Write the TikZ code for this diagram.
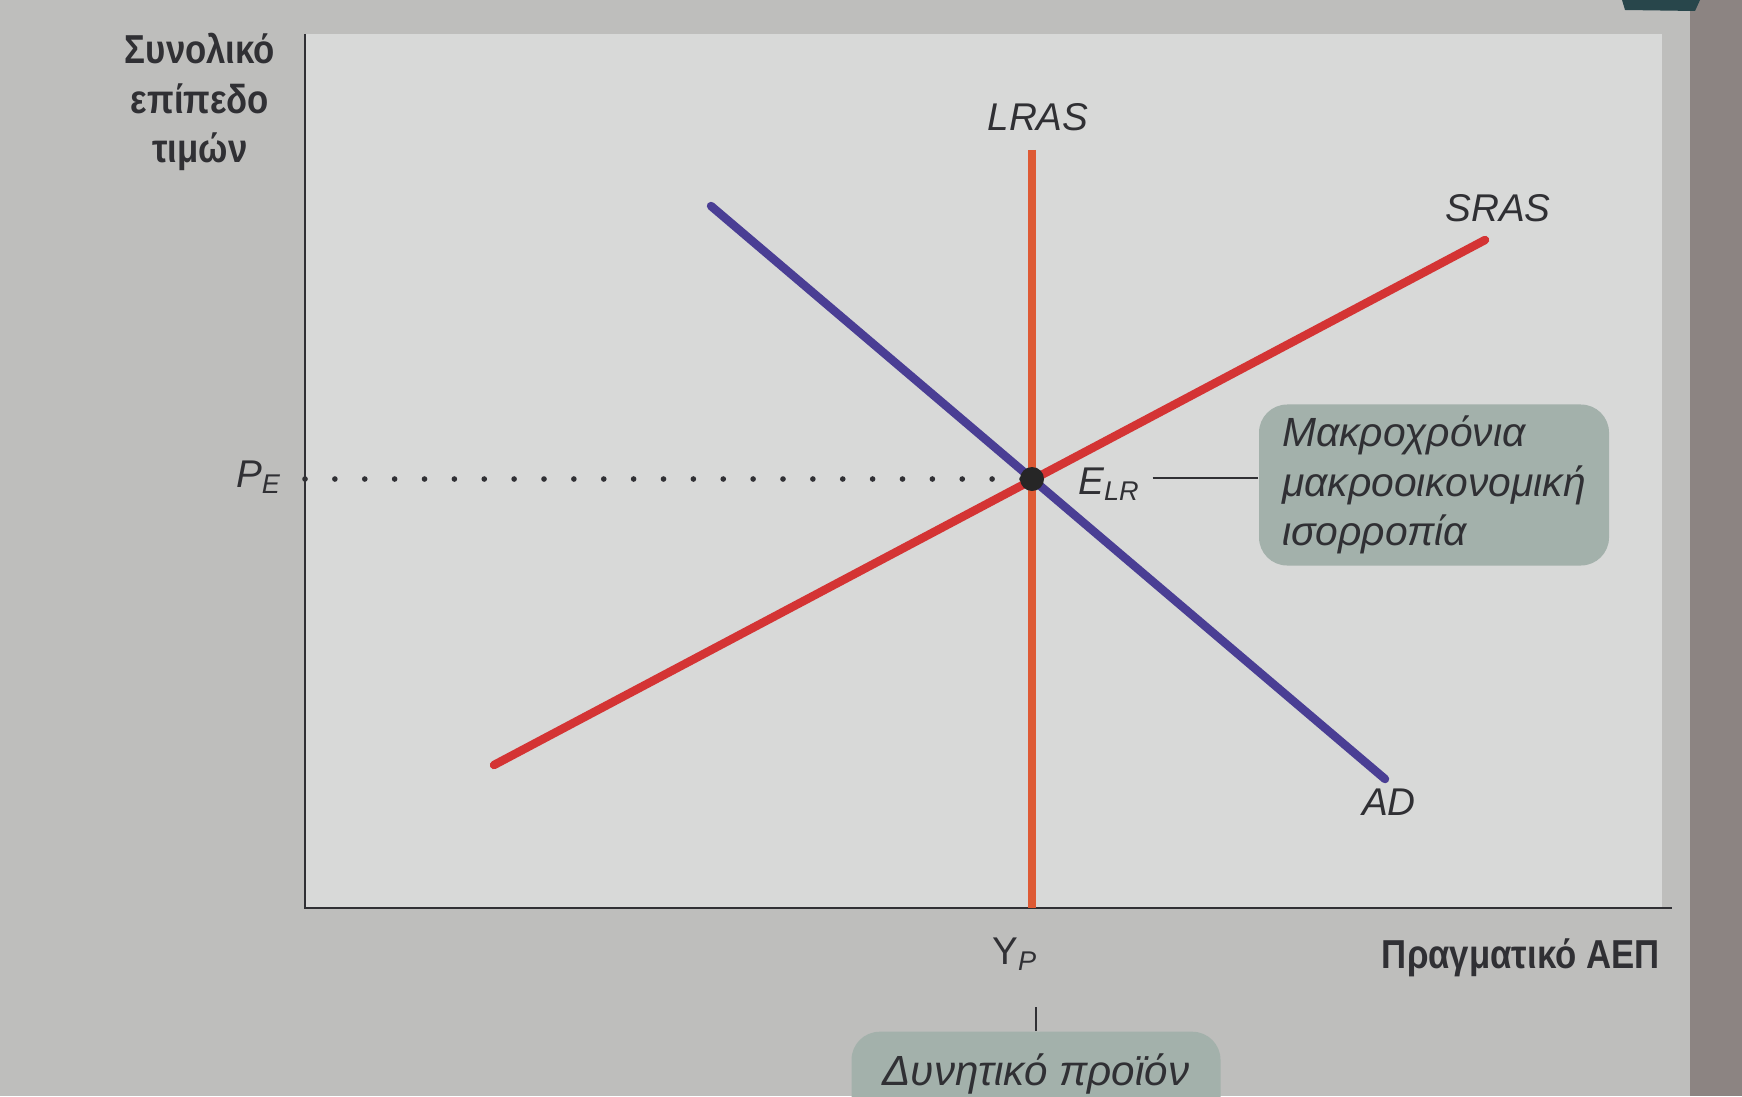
\documentclass[tikz,border=0pt]{standalone}
\usepackage{fontspec}
\setmainfont{Liberation Sans}
\newfontfamily\titlefont[FakeStretch=0.86]{Liberation Sans}
\usetikzlibrary{positioning}

\definecolor{pagegray}{RGB}{190,190,188}
\definecolor{panelgray}{RGB}{216,217,216}
\definecolor{edgegray}{RGB}{140,132,130}
\definecolor{teal}{RGB}{40,70,75}
\definecolor{adblue}{RGB}{74,62,148}
\definecolor{srasred}{RGB}{212,52,52}
\definecolor{lrasorange}{RGB}{222,90,52}
\definecolor{boxgreen}{RGB}{163,177,171}
\definecolor{inkgray}{RGB}{48,48,52}

\tikzset{
  curve/.style={line width=2.4pt, line cap=round},
  curvelabel/.style={font=\itshape\fontsize{11}{13}\selectfont, text=inkgray, inner sep=1pt},
  notebox/.style={fill=boxgreen, rounded corners=8pt, text=inkgray, align=left,
    font=\itshape\fontsize{11.6}{14}\selectfont},
  axistitle/.style={font=\titlefont\bfseries\fontsize{11.5}{14}\selectfont, text=inkgray, align=center}
}

\begin{document}
\begin{tikzpicture}
    \useasboundingbox (0,0) rectangle (17.42,10.96);
    \clip (0,0) rectangle (17.42,10.96);

    % page and plot panel
    \fill [pagegray] (0,0) rectangle (17.42,10.96);
    \fill [edgegray] (16.9,0) rectangle (17.42,10.96);
    \fill [teal] (16.22,10.96) -- (17.0,10.96) -- (16.95,10.85) -- (16.25,10.86) -- cycle;
    \fill [panelgray] (3.05,1.88) rectangle (16.62,10.62);

    % axes
    \coordinate (O) at (3.05,1.88);
    \draw [inkgray, line width=0.7pt] (3.05,10.62) -- (O) -- (16.72,1.88);

    % axis titles
    \node [axistitle] (ytitle) at (2.0,9.94) {Συνολικό\\επίπεδο\\τιμών};
    \node [axistitle, anchor=east] (xtitle) at (16.72,1.38) {Πραγματικό ΑΕΠ};

    % curves
    \coordinate (lrastop) at (10.32,9.46);
    \coordinate (lrasbot) at (10.32,1.88);
    \coordinate (adtop) at (7.11,8.90);
    \coordinate (adbot) at (13.85,3.17);
    \coordinate (srasbot) at (4.94,3.31);
    \coordinate (srastop) at (14.85,8.56);
    \coordinate (E) at (10.32,6.17);

    \draw [curve, srasred] (srasbot) -- (srastop);
    \draw [curve, adblue] (adtop) -- (adbot);
    \draw [curve, lrasorange, line cap=butt] (lrastop) -- (lrasbot);

    % price level and equilibrium
    \node [curvelabel, anchor=east] (pe) at (2.86,6.19) {P\textsubscript{E}};
    \draw [inkgray, line width=1.6pt, line cap=round, dash pattern=on 0pt off 8.5pt] (O |- E) -- (E);
    \fill [black!85] (E) circle (0.12);

    \node [curvelabel] (lras) at (10.38,9.79) {LRAS};
    \node [curvelabel] (sras) at (14.98,8.88) {SRAS};
    \node [curvelabel] (ad) at (13.89,2.94) {AD};
    \node [curvelabel, anchor=west] (elr) at (10.74,6.12) {E\textsubscript{LR}};

    % note boxes
    \node [notebox, minimum width=3.5cm, minimum height=1.58cm, inner xsep=6pt] (eqbox) at (14.34,6.11)
        {Μακροχρόνια\\μακροοικονομική\\ισορροπία};
    \draw [inkgray, line width=0.8pt] (elr.east) ++(0.08,0.06) coordinate (elrend) -- (elrend -| eqbox.west);

    \node [curvelabel] (yp) at (10.15,1.42) {\upshape Y\textsubscript{\itshape P}};
    \node [notebox, anchor=north, minimum width=3.69cm, inner ysep=0.22cm, text depth=0.6cm] (dynbox) at (10.36,0.65)
        {\fontsize{12}{14}\selectfont Δυνητικό προϊόν};
    \draw [inkgray, line width=0.8pt] (dynbox.north) -- ++(0,0.24);
\end{tikzpicture}
\end{document}
